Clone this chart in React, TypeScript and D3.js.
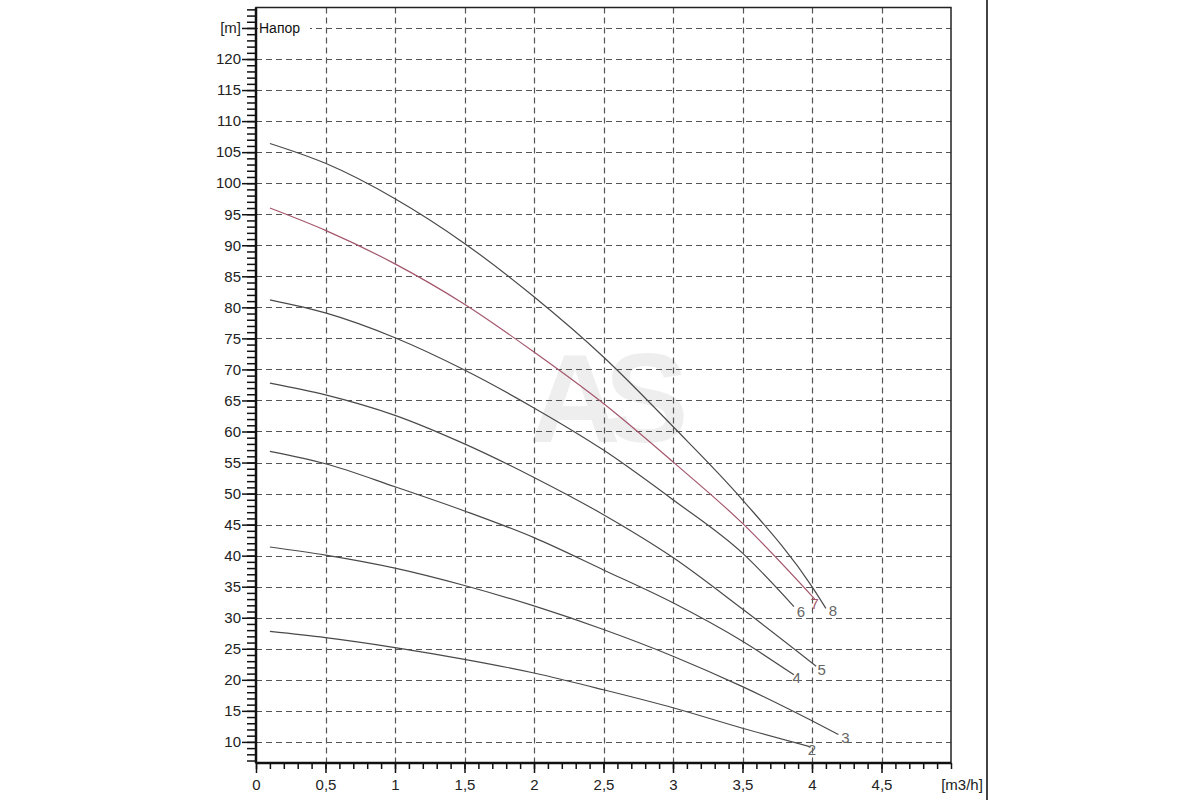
import React, { useRef, useEffect } from "react";
import * as d3 from "d3";

// flow points [m3/h] shared by the curves, last point is each curve's own end
const flowPoints = [0.1, 0.5, 1, 1.5, 2, 2.5, 3, 3.5];

const curve2 = [27.8, 26.8, 25.2, 23.3, 21.1, 18.4, 15.5, 12.2];
const curve3 = [41.4, 40.1, 38.0, 35.2, 31.9, 28.1, 23.8, 18.9];
const curve4 = [56.8, 54.8, 51.1, 47.2, 42.9, 37.7, 32.4, 26.2];
const curve5 = [67.8, 65.9, 62.6, 58.0, 52.6, 46.6, 39.7, 31.4];
const curve6 = [81.2, 79.1, 75.1, 69.9, 63.8, 57.0, 49.0, 40.4];
const curve7 = [96.0, 92.4, 87.0, 80.5, 72.8, 64.5, 55.1, 45.2];
const curve8 = [106.4, 103.2, 97.5, 90.3, 81.7, 72.0, 60.8, 49.0];

// extra tail points past 3.5 m3/h: [flow, head]
const tail2 = [[3.99, 9.2]];
const tail3 = [[4.0, 13.4], [4.19, 11.2]];
const tail4 = [[3.87, 20.8]];
const tail5 = [[4.03, 22.2]];
const tail6 = [[3.87, 31.8]];
const tail7 = [[4.02, 33.0]];
const tail8 = [[4.0, 35.0], [4.1, 31.5]];

const curveNames = ["2", "3", "4", "5", "6", "7", "8"];
const curveHeads = [curve2, curve3, curve4, curve5, curve6, curve7, curve8];
const curveTails = [tail2, tail3, tail4, tail5, tail6, tail7, tail8];

// where the curve numbers sit, in chart units
const labelFlow = [4.0, 4.24, 3.89, 4.07, 3.92, 4.02, 4.15];
const labelHead = [8.8, 10.7, 20.4, 21.7, 31.0, 32.2, 31.1];

const yTicks = d3.range(10, 126, 5);
const xTicks = d3.range(0, 4.51, 0.5);

const App: React.FC = () => {
  const svgRef = useRef<SVGSVGElement>(null);

  useEffect(() => {
    if (!svgRef.current) return;
    const svg = d3.select(svgRef.current);
    svg.selectAll("*").remove();

    const left = 256, right = 951, top = 7.5, bottom = 763;
    const x = d3.scaleLinear().domain([0, 5]).range([left, right]);
    const y = d3.scaleLinear().domain([6.6, 128.3]).range([bottom, top]);
    const font = "'Liberation Sans', Arial, sans-serif";

    svg.append("rect").attr("width", 1200).attr("height", 800).attr("fill", "#fff");

    // watermark
    svg
      .append("text")
      .attr("x", 601)
      .attr("y", 442)
      .attr("text-anchor", "middle")
      .attr("font-family", font)
      .attr("font-weight", "bold")
      .attr("font-size", 126)
      .attr("letter-spacing", -16)
      .attr("fill", "#eeeeee")
      .text("AS");

    // grid
    const grid = svg.append("g").attr("stroke", "#555").attr("stroke-width", 1.2).attr("stroke-dasharray", "6,4");
    grid
      .selectAll("line.h")
      .data(yTicks)
      .join("line")
      .attr("x1", left)
      .attr("x2", right)
      .attr("y1", (d) => Math.round(y(d)) + 0.5)
      .attr("y2", (d) => Math.round(y(d)) + 0.5);
    grid
      .selectAll("line.v")
      .data(xTicks.slice(1))
      .join("line")
      .attr("y1", top)
      .attr("y2", bottom)
      .attr("x1", (d) => Math.round(x(d)) + 0.5)
      .attr("x2", (d) => Math.round(x(d)) + 0.5);

    // curves
    const line = d3
      .line<number[]>()
      .x((d) => x(d[0]))
      .y((d) => y(d[1]))
      .curve(d3.curveMonotoneX);

    curveNames.forEach((name, i) => {
      const pts = flowPoints.map((f, j) => [f, curveHeads[i][j]]).concat(curveTails[i]);
      svg
        .append("path")
        .datum(pts)
        .attr("fill", "none")
        .attr("stroke", name === "7" ? "#a3566b" : "#4a4a4a")
        .attr("stroke-width", 1.2)
        .attr("d", line);
      svg
        .append("text")
        .attr("x", x(labelFlow[i]))
        .attr("y", y(labelHead[i]))
        .attr("dy", "0.36em")
        .attr("text-anchor", "middle")
        .attr("font-family", font)
        .attr("font-size", 15)
        .attr("fill", name === "7" ? "#a3566b" : "#666")
        .text(name);
    });

    // frame
    svg
      .append("rect")
      .attr("x", left)
      .attr("y", top)
      .attr("width", right - left)
      .attr("height", bottom - top)
      .attr("fill", "none")
      .attr("stroke", "#222")
      .attr("stroke-width", 1.5);

    // y axis
    const yMinor = svg
      .append("g")
      .attr("transform", `translate(${left},0)`)
      .call(d3.axisLeft(y).tickValues(d3.range(7, 129, 1)).tickSize(9).tickFormat(() => ""));
    const yMajor = svg
      .append("g")
      .attr("transform", `translate(${left},0)`)
      .call(
        d3
          .axisLeft(y)
          .tickValues(yTicks)
          .tickSize(14)
          .tickPadding(1)
          .tickFormat((d) => (+d === 125 ? "[m]" : String(d)))
      );

    // x axis
    const xMinor = svg
      .append("g")
      .attr("transform", `translate(0,${bottom})`)
      .call(d3.axisBottom(x).tickValues(d3.range(0, 5.01, 0.1)).tickSize(6).tickFormat(() => ""));
    const xMajor = svg
      .append("g")
      .attr("transform", `translate(0,${bottom})`)
      .call(
        d3
          .axisBottom(x)
          .tickValues(xTicks)
          .tickSize(10)
          .tickPadding(6)
          .tickFormat((d) => String(+(+d).toFixed(1)).replace(".", ","))
      );

    [yMinor, yMajor, xMinor, xMajor].forEach((g) => {
      g.select(".domain").remove();
      g.selectAll("line").attr("stroke", "#111").attr("stroke-width", 1.5);
      g.selectAll("text").attr("font-family", font).attr("font-size", 15).attr("fill", "#222");
    });

    svg
      .append("line")
      .attr("x1", left)
      .attr("x2", left)
      .attr("y1", top)
      .attr("y2", bottom)
      .attr("stroke", "#111")
      .attr("stroke-width", 2.5);
    svg
      .append("line")
      .attr("x1", left)
      .attr("x2", right)
      .attr("y1", bottom)
      .attr("y2", bottom)
      .attr("stroke", "#111")
      .attr("stroke-width", 2.5);

    svg
      .append("text")
      .attr("x", x(5) + 11)
      .attr("y", bottom + 27)
      .attr("text-anchor", "middle")
      .attr("font-family", font)
      .attr("font-size", 15)
      .attr("fill", "#222")
      .text("[m3/h]");

    // title with a white box so the grid line stops behind it
    svg
      .append("rect")
      .attr("x", left + 2)
      .attr("y", y(125) - 10)
      .attr("width", 52)
      .attr("height", 18)
      .attr("fill", "#fff");
    svg
      .append("text")
      .attr("x", left + 3)
      .attr("y", y(125) + 5)
      .attr("font-family", font)
      .attr("font-size", 14)
      .attr("fill", "#111")
      .text("Напор");

    // page edge line on the right
    svg
      .append("line")
      .attr("x1", 987)
      .attr("x2", 987)
      .attr("y1", 0)
      .attr("y2", 800)
      .attr("stroke", "#444")
      .attr("stroke-width", 2);
  }, []);

  return (
    <div style={{ position: "absolute", left: 0, top: 0 }}>
      <svg ref={svgRef} width={1200} height={800}></svg>
    </div>
  );
};

export default App;
